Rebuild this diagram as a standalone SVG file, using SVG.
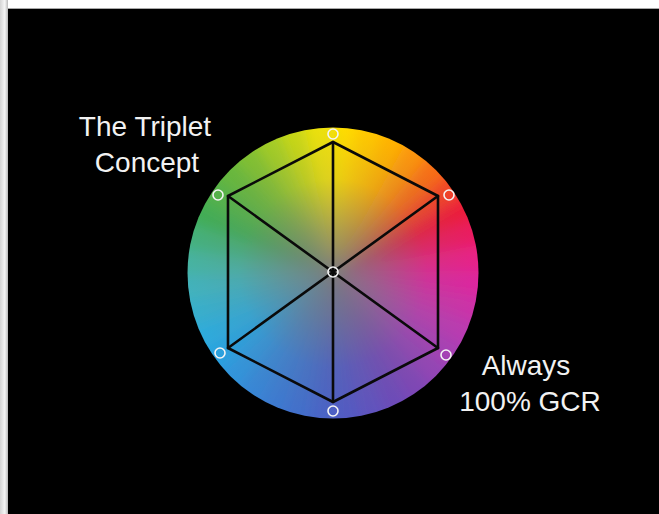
<svg xmlns="http://www.w3.org/2000/svg" xmlns:xlink="http://www.w3.org/1999/xlink" width="659" height="514" viewBox="0 0 659 514">
  <defs>
    <style>
      .lbl { font-family: "Liberation Sans", Arial, Helvetica, sans-serif; font-size: 28px; fill: #f2f2f2; text-anchor: middle; }
      .edge { stroke: #0a0a0a; stroke-width: 2.6; fill: none; stroke-linecap: round; stroke-linejoin: round; }
      .mk { fill: none; stroke: #f4f4f4; stroke-width: 1.6; }
    </style>
    <linearGradient id="leftStrip" x1="0" y1="0" x2="1" y2="0">
      <stop offset="0" stop-color="#d4d4d4"/>
      <stop offset="0.6" stop-color="#f6f6f6"/>
      <stop offset="1" stop-color="#b8b8b8"/>
    </linearGradient>
    <path id="w" d="M0 0 L-3 -200 L38 -200 Z"/>
    <clipPath id="disc">
      <circle cx="333" cy="273" r="145.5"/>
    </clipPath>
    <filter id="soft" x="-20%" y="-20%" width="140%" height="140%">
      <feGaussianBlur stdDeviation="7"/>
    </filter>
    <radialGradient id="grey" cx="333" cy="273" r="145" gradientUnits="userSpaceOnUse">
      <stop offset="0" stop-color="#7c7c7c" stop-opacity="0.95"/>
      <stop offset="0.3" stop-color="#7c7c7c" stop-opacity="0.6"/>
      <stop offset="0.65" stop-color="#7c7c7c" stop-opacity="0.15"/>
      <stop offset="1" stop-color="#7c7c7c" stop-opacity="0"/>
    </radialGradient>
  </defs>

  <!-- frame -->
  <rect x="0" y="0" width="659" height="514" fill="#ffffff"/>
  <rect x="0" y="0" width="8" height="514" fill="url(#leftStrip)"/>
  <rect x="8" y="8" width="651" height="1" fill="#a8a8a8"/>
  <rect x="8" y="9" width="651" height="505" fill="#000000"/>

  <!-- colour wheel -->
  <g id="wheel">
    <g clip-path="url(#disc)">
      <g filter="url(#soft)" transform="translate(333 273)">
        <use xlink:href="#w" transform="rotate(0)" fill="#ffdc00"/>
        <use xlink:href="#w" transform="rotate(10)" fill="#ffc700"/>
        <use xlink:href="#w" transform="rotate(20)" fill="#ffb200"/>
        <use xlink:href="#w" transform="rotate(30)" fill="#fc9408"/>
        <use xlink:href="#w" transform="rotate(40)" fill="#f86e16"/>
        <use xlink:href="#w" transform="rotate(50)" fill="#f24527"/>
        <use xlink:href="#w" transform="rotate(60)" fill="#ec1c3a"/>
        <use xlink:href="#w" transform="rotate(70)" fill="#ea1f60"/>
        <use xlink:href="#w" transform="rotate(80)" fill="#e72287"/>
        <use xlink:href="#w" transform="rotate(90)" fill="#dd289f"/>
        <use xlink:href="#w" transform="rotate(100)" fill="#cc31a8"/>
        <use xlink:href="#w" transform="rotate(110)" fill="#ba3ab1"/>
        <use xlink:href="#w" transform="rotate(120)" fill="#a741b5"/>
        <use xlink:href="#w" transform="rotate(130)" fill="#9344b5"/>
        <use xlink:href="#w" transform="rotate(140)" fill="#7e47b5"/>
        <use xlink:href="#w" transform="rotate(150)" fill="#6d4cb8"/>
        <use xlink:href="#w" transform="rotate(160)" fill="#6053bd"/>
        <use xlink:href="#w" transform="rotate(170)" fill="#535ac2"/>
        <use xlink:href="#w" transform="rotate(180)" fill="#4964c6"/>
        <use xlink:href="#w" transform="rotate(190)" fill="#436fcb"/>
        <use xlink:href="#w" transform="rotate(200)" fill="#3d7ad0"/>
        <use xlink:href="#w" transform="rotate(210)" fill="#3786d5"/>
        <use xlink:href="#w" transform="rotate(220)" fill="#3194db"/>
        <use xlink:href="#w" transform="rotate(230)" fill="#2ba2e1"/>
        <use xlink:href="#w" transform="rotate(240)" fill="#2dabdc"/>
        <use xlink:href="#w" transform="rotate(250)" fill="#38afcc"/>
        <use xlink:href="#w" transform="rotate(260)" fill="#43b2bc"/>
        <use xlink:href="#w" transform="rotate(270)" fill="#47b3a1"/>
        <use xlink:href="#w" transform="rotate(280)" fill="#44b07b"/>
        <use xlink:href="#w" transform="rotate(290)" fill="#42ad55"/>
        <use xlink:href="#w" transform="rotate(300)" fill="#54b249"/>
        <use xlink:href="#w" transform="rotate(310)" fill="#67b73e"/>
        <use xlink:href="#w" transform="rotate(320)" fill="#81c032"/>
        <use xlink:href="#w" transform="rotate(330)" fill="#a3cc25"/>
        <use xlink:href="#w" transform="rotate(340)" fill="#c7d717"/>
        <use xlink:href="#w" transform="rotate(350)" fill="#ece108"/>
      </g>
      <circle cx="333" cy="273" r="146" fill="url(#grey)"/>
    </g>
  </g>

  <!-- connectors -->
  <g id="connectors">
    <polygon class="edge" points="333,142 438,196 438,348 333,402 228,348 228,196"/>
    <line class="edge" x1="333" y1="142" x2="333" y2="402"/>
    <line class="edge" x1="228" y1="196" x2="438" y2="348"/>
    <line class="edge" x1="438" y1="196" x2="228" y2="348"/>
  </g>

  <!-- nodes -->
  <g id="node-top"><circle class="mk" cx="333" cy="134" r="5"/></g>
  <g id="node-upper-right"><circle class="mk" cx="449" cy="195" r="5"/></g>
  <g id="node-lower-right"><circle class="mk" cx="446" cy="355" r="5"/></g>
  <g id="node-bottom"><circle class="mk" cx="333" cy="411" r="5"/></g>
  <g id="node-lower-left"><circle class="mk" cx="220" cy="353" r="5"/></g>
  <g id="node-upper-left"><circle class="mk" cx="218" cy="195" r="5"/></g>
  <g id="node-centre"><circle class="mk" cx="333" cy="272" r="5"/></g>

  <!-- labels -->
  <g id="label-triplet">
    <text class="lbl" x="145" y="136">The Triplet</text>
    <text class="lbl" x="147" y="172">Concept</text>
  </g>
  <g id="label-gcr">
    <text class="lbl" x="526" y="375">Always</text>
    <text class="lbl" x="530" y="411">100% GCR</text>
  </g>
</svg>
